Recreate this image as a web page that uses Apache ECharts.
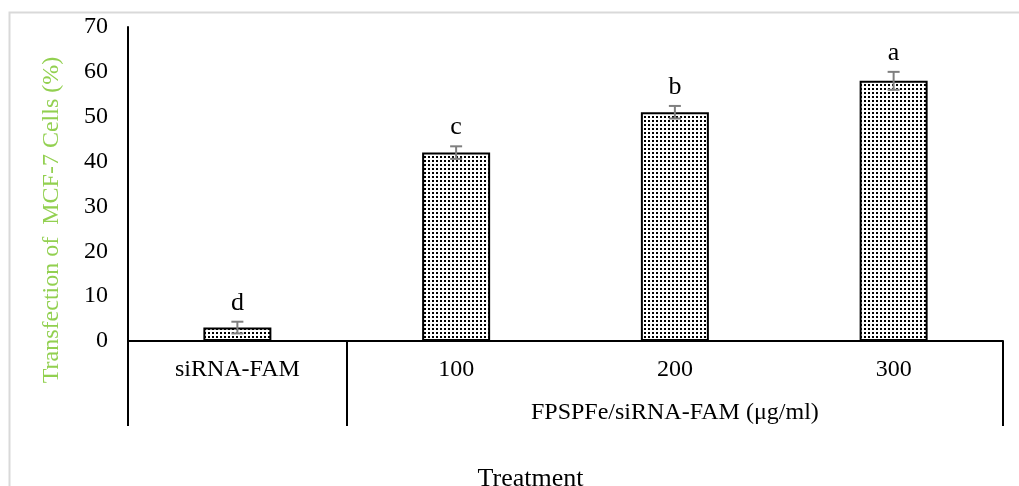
<!DOCTYPE html>
<html>
<head>
<meta charset="utf-8">
<script src="https://cdn.jsdelivr.net/npm/echarts@6/dist/echarts.min.js"></script>
<style>
html,body{margin:0;padding:0;background:#fff;}
#chart{width:1019px;height:486px;}
</style>
</head>
<body>
<div id="chart"></div>
<script>
// ---- data ----
const categories = ['siRNA-FAM', '100', '200', '300'];
const groupLabels = ['', '', 'FPSPFe/siRNA-FAM (μg/ml)', ''];
const means = [3, 42, 51, 58];
const errors = [1.3, 1.4, 1.4, 2.0];
const letters = ['d', 'c', 'b', 'a'];
const yTicks = { min: 0, max: 70, interval: 10 };
const yTitle = 'Transfection of  MCF-7 Cells (%)';
const xTitle = 'Treatment';

// dotted fill pattern
const pat = document.createElement('canvas');
pat.width = 4; pat.height = 4;
const pctx = pat.getContext('2d');
pctx.fillStyle = '#ffffff';
pctx.fillRect(0, 0, 4, 4);
pctx.fillStyle = '#000000';
pctx.fillRect(0, 0, 2, 2);

const font = '"Liberation Serif", "Times New Roman", serif';
const chart = echarts.init(document.getElementById('chart'), null, { renderer: 'canvas' });

const option = {
  backgroundColor: '#ffffff',
  animation: false,
  textStyle: { fontFamily: font },
  graphic: [{
    type: 'rect', z: -10,
    shape: { x: 9.5, y: 12.5, width: 1200, height: 600 },
    style: { fill: 'none', stroke: '#d9d9d9', lineWidth: 2 }
  }],
  grid: { left: 128, right: 16, top: 27, bottom: 145, containLabel: false, outerBoundsMode: 'none' },
  xAxis: [{
    type: 'category',
    data: categories,
    axisLine: { show: true, lineStyle: { color: '#000', width: 2 } },
    axisTick: {
      show: true, length: 85, inside: false,
      interval: function (i) { return i <= 1; },
      lineStyle: { color: '#000', width: 2 }
    },
    axisLabel: { interval: 0, margin: 17, fontSize: 24, color: '#000', fontFamily: font },
    name: xTitle,
    nameLocation: 'middle',
    nameGap: 125,
    nameTextStyle: { fontSize: 26, color: '#000', fontFamily: font, padding: [0, 70, 0, 0] }
  }, {
    type: 'category',
    data: groupLabels,
    position: 'bottom',
    axisLine: { show: false },
    axisTick: { show: false },
    axisLabel: { interval: 0, margin: 60, fontSize: 24, color: '#000', fontFamily: font }
  }],
  yAxis: {
    type: 'value',
    min: yTicks.min, max: yTicks.max, interval: yTicks.interval,
    axisLine: { show: true, lineStyle: { color: '#000', width: 2 } },
    axisTick: { show: false },
    splitLine: { show: false },
    axisLabel: { margin: 20, fontSize: 24, color: '#000', fontFamily: font },
    name: yTitle,
    nameLocation: 'middle',
    nameGap: 64,
    nameTextStyle: { fontSize: 24, color: '#92D050', fontFamily: font, padding: [0, 72, 0, 0] }
  },
  series: [{
    type: 'bar',
    data: means,
    barWidth: 68,
    itemStyle: {
      color: { image: pat, repeat: 'repeat' },
      borderColor: '#000',
      borderWidth: 2
    }
  }, {
    type: 'custom',
    data: means.map((m, i) => [i, m, errors[i]]),
    z: 10,
    renderItem: function (params, api) {
      const i = api.value(0), m = api.value(1), e = api.value(2);
      const top = api.coord([i, m + e]);
      const bot = api.coord([i, m - e]);
      const hw = 6;
      const st = { stroke: '#7f7f7f', lineWidth: 2 };
      return {
        type: 'group',
        children: [
          { type: 'line', shape: { x1: top[0], y1: top[1], x2: bot[0], y2: bot[1] }, style: st },
          { type: 'line', shape: { x1: top[0] - hw, y1: top[1], x2: top[0] + hw, y2: top[1] }, style: st },
          { type: 'line', shape: { x1: bot[0] - hw, y1: bot[1], x2: bot[0] + hw, y2: bot[1] }, style: st },
          { type: 'text', style: { x: top[0], y: top[1] - 6, text: letters[i], fill: '#000',
              font: '26px ' + font, align: 'center', verticalAlign: 'bottom' } }
        ]
      };
    }
  }]
};
chart.setOption(option);
</script>
</body>
</html>
